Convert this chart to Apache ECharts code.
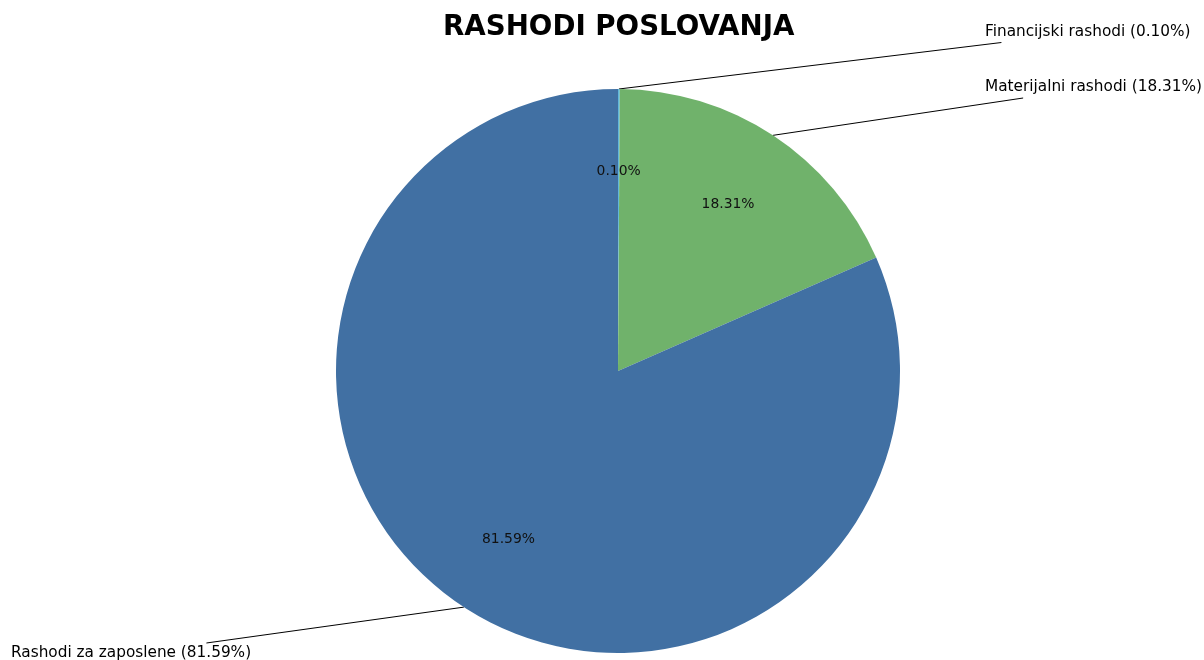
<!DOCTYPE html>
<html>
<head>
<meta charset="utf-8">
<script src="https://cdn.jsdelivr.net/npm/echarts@6/dist/echarts.min.js"></script>
<style>
html,body{margin:0;padding:0;background:#fff;}
#chart{width:1204px;height:660px;}
</style>
</head>
<body>
<div id="chart"></div>
<script>
const titleText = 'RASHODI POSLOVANJA';
const categories = ['Financijski rashodi', 'Materijalni rashodi', 'Rashodi za zaposlene'];
const percents = [0.10, 18.31, 81.59];
const colors = ['#62b6da', '#70b26b', '#4170a3'];

const FONT = '"DejaVu Sans", sans-serif';
const CX = 618, CY = 371, R = 282;
// outer label anchor positions (left x, middle y)
const labelPos = [[985, 32], [985, 87.5], [11, 653.5]];

const seriesData = categories.map((c, i) => ({ name: c, value: percents[i], itemStyle: { color: colors[i] } }));

function clipEnd(p0, rect, pad) {
  const rx0 = rect.x - pad, rx1 = rect.x + rect.width + pad;
  const ry0 = rect.y - pad, ry1 = rect.y + rect.height + pad;
  const c = [rect.x + rect.width / 2, rect.y + rect.height / 2];
  const d = [c[0] - p0[0], c[1] - p0[1]];
  let tx = -Infinity, ty = -Infinity;
  if (d[0] !== 0) tx = Math.min((rx0 - p0[0]) / d[0], (rx1 - p0[0]) / d[0]);
  if (d[1] !== 0) ty = Math.min((ry0 - p0[1]) / d[1], (ry1 - p0[1]) / d[1]);
  const t = Math.max(tx, ty);
  return [p0[0] + t * d[0], p0[1] + t * d[1]];
}

const chart = echarts.init(document.getElementById('chart'));
chart.setOption({
  animation: false,
  backgroundColor: '#ffffff',
  title: {
    text: titleText,
    left: 438,
    top: 9,
    textStyle: { fontFamily: FONT, fontSize: 27.7, fontWeight: 'bold', color: '#000' }
  },
  series: [
    {
      type: 'pie',
      center: [CX, CY],
      radius: [0, R],
      startAngle: 90,
      clockwise: true,
      avoidLabelOverlap: false,
      silent: true,
      data: seriesData,
      label: {
        show: true,
        position: 'outside',
        fontFamily: FONT,
        fontSize: 15.3,
        color: '#000',
        formatter: p => p.name + ' (' + p.value.toFixed(2) + '%)'
      },
      labelLine: { show: true, length: 20, length2: 20, smooth: false, lineStyle: { color: '#000', width: 1 } },
      labelLayout: function (params) {
        const i = params.dataIndex;
        const pos = labelPos[i];
        const w = params.labelRect.width, h = params.labelRect.height;
        const rect = { x: pos[0], y: pos[1] - h / 2, width: w, height: h };
        const p0 = params.labelLinePoints ? params.labelLinePoints[0] : [CX, CY];
        const e = clipEnd(p0, rect, 3);
        return {
          x: pos[0], y: pos[1], align: 'left', verticalAlign: 'middle',
          labelLinePoints: [p0, e, e]
        };
      }
    },
    {
      type: 'pie',
      center: [CX, CY + 0.5],
      radius: [R * 0.4, R],
      startAngle: 90,
      clockwise: true,
      silent: true,
      avoidLabelOverlap: false,
      data: categories.map((c, i) => ({ name: c, value: percents[i] })),
      itemStyle: { color: 'rgba(0,0,0,0)' },
      emphasis: { disabled: true },
      label: {
        show: true,
        position: 'inside',
        rotate: 0,
        fontFamily: FONT,
        fontSize: 13.9,
        color: '#111',
        formatter: p => p.value.toFixed(2) + '%'
      },
      labelLine: { show: false }
    }
  ]
});
</script>
</body>
</html>
